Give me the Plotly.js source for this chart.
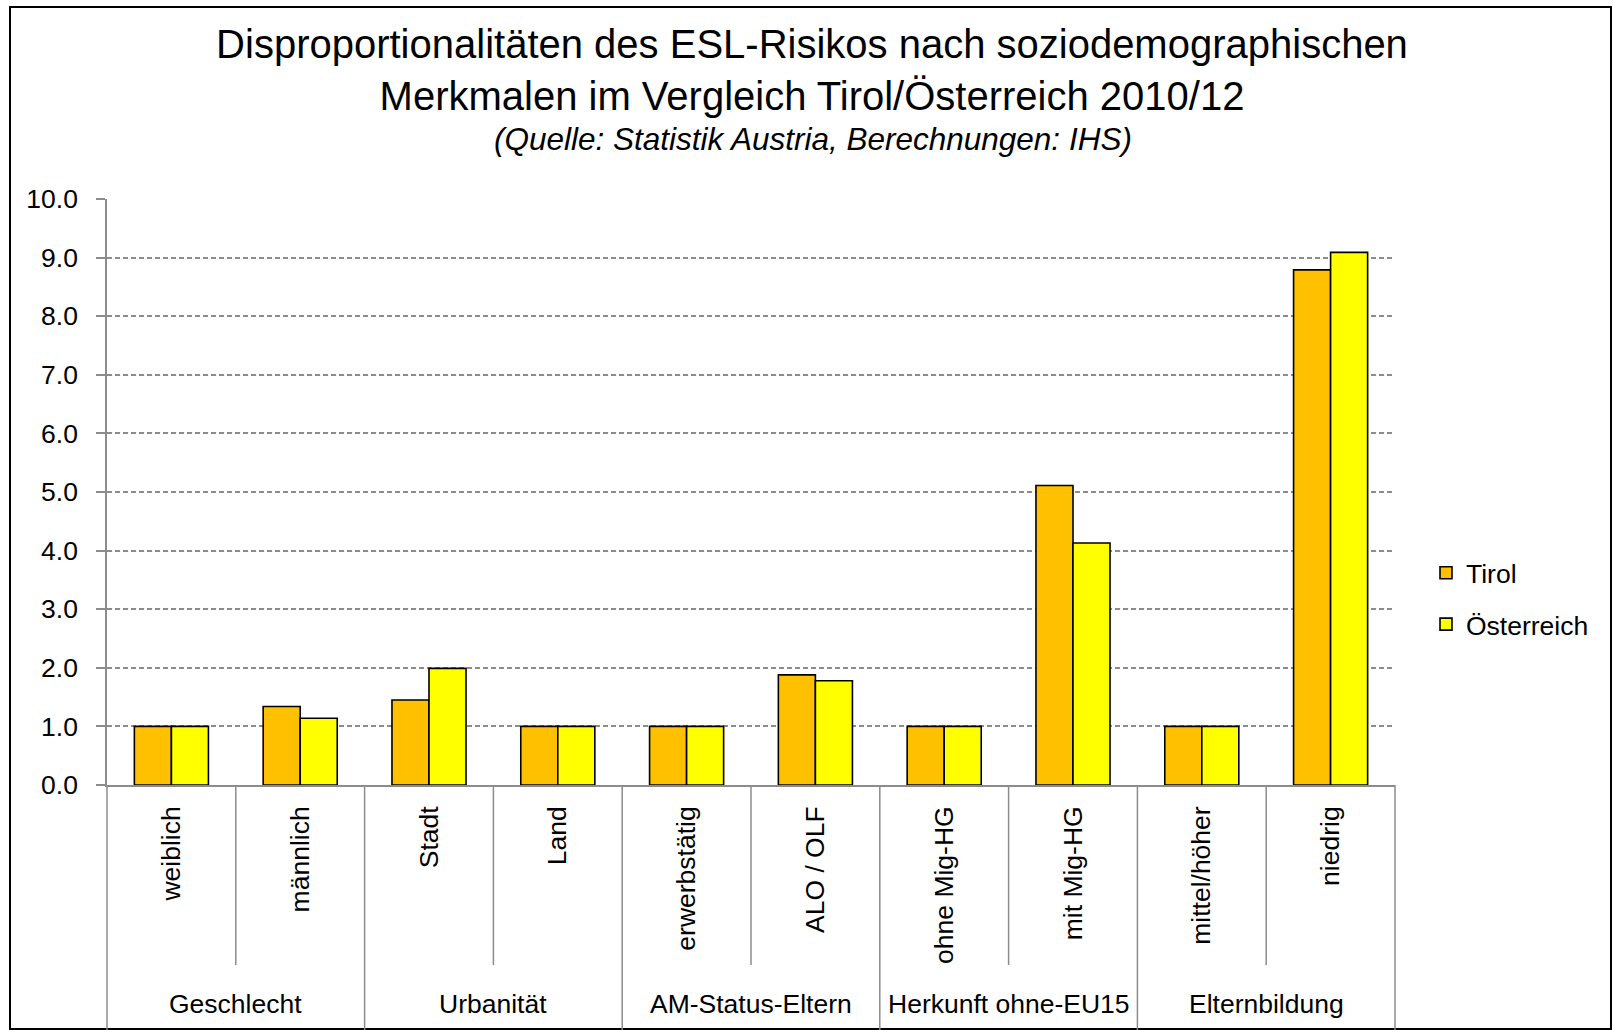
<!DOCTYPE html>
<html>
<head>
<meta charset="utf-8">
<script src="https://cdn.plot.ly/plotly-3.0.1.min.js"></script>
<style>
  html, body { margin: 0; padding: 0; background: #ffffff; }
  #chart { width: 1613px; height: 1030px; }
</style>
</head>
<body>
<div id="chart"></div>
<script>
// Merkmalsausprägungen (innere Achse) und ihre Gruppen (äußere Achse)
const categories = ['weiblich', 'männlich', 'Stadt', 'Land', 'erwerbstätig',
                    'ALO / OLF', 'ohne Mig-HG', 'mit Mig-HG', 'mittel/höher', 'niedrig'];
const groups = ['Geschlecht', 'Urbanität', 'AM-Status-Eltern', 'Herkunft ohne-EU15', 'Elternbildung'];
const groupSizes = [2, 2, 2, 2, 2];

// Disproportionalitäten (Referenzkategorie = 1.0)
const tirol       = [1.00, 1.34, 1.45, 1.00, 1.00, 1.88, 1.00, 5.11, 1.00, 8.79];
const oesterreich = [1.00, 1.14, 1.99, 1.00, 1.00, 1.78, 1.00, 4.13, 1.00, 9.09];

const seriesNames = ['Tirol', 'Österreich'];
const yTickValues = [0, 1, 2, 3, 4, 5, 6, 7, 8, 9, 10];

const titleText = 'Disproportionalitäten des ESL-Risikos nach soziodemographischen<br>Merkmalen im Vergleich Tirol/Österreich 2010/12';
const subtitleText = '(Quelle: Statistik Austria, Berechnungen: IHS)';

// Seitengeometrie in Pixeln
const W = 1613, H = 1030;
const M = { l: 107, r: 218, t: 199, b: 245 };
const plotW = W - M.l - M.r;
const plotH = H - M.t - M.b;
const px2x = px => (px - M.l) / plotW;
const py2y = py => (H - M.b - py) / plotH;

const FONT = '"Liberation Sans", Arial, "DejaVu Sans", sans-serif';
const GREY = '#8c8c8c';
const LABEL_SIZE = 26.5;

const traces = [
  {
    type: 'bar', name: seriesNames[0], x: categories, y: tirol,
    marker: { color: '#FFC000', line: { color: '#000000', width: 1.6 } },
    legendgroup: 'a', hoverinfo: 'x+y+name'
  },
  {
    type: 'bar', name: seriesNames[1], x: categories, y: oesterreich,
    marker: { color: '#FFFF00', line: { color: '#000000', width: 1.6 } },
    legendgroup: 'b', hoverinfo: 'x+y+name'
  }
];

// Trennlinien der Kategorieachse: kurz zwischen Ausprägungen, lang zwischen Gruppen
const shapes = [];
const n = categories.length;
const groupBounds = new Set([0]);
let acc = 0;
groupSizes.forEach(s => { acc += s; groupBounds.add(acc); });
for (let k = 0; k <= n; k++) {
  const xp = k / n;
  const isGroup = groupBounds.has(k);
  shapes.push({
    type: 'line', xref: 'paper', yref: 'paper',
    x0: xp, x1: xp, y0: 0, y1: py2y(isGroup ? 1030 : 965),
    line: { color: GREY, width: 1.5 }
  });
}
// Rahmen um die gesamte Grafik
shapes.push({
  type: 'rect', xref: 'paper', yref: 'paper',
  x0: px2x(10), x1: px2x(1611), y0: py2y(7), y1: py2y(1029),
  line: { color: '#000000', width: 2 }, fillcolor: 'rgba(0,0,0,0)', layer: 'below'
});

// Gruppenbeschriftungen
const annotations = [];
let start = 0;
groups.forEach((g, i) => {
  const mid = (start + groupSizes[i] / 2) / n;
  start += groupSizes[i];
  annotations.push({
    text: g, xref: 'paper', yref: 'paper', x: mid, y: py2y(1004),
    xanchor: 'center', yanchor: 'middle', showarrow: false,
    font: { family: FONT, size: LABEL_SIZE, color: '#000000' }
  });
});
annotations.push({
  text: '<i>' + subtitleText + '</i>', xref: 'paper', yref: 'paper',
  x: px2x(813), y: py2y(139), xanchor: 'center', yanchor: 'middle', showarrow: false,
  font: { family: FONT, size: 31.5, color: '#000000' }
});

const layout = {
  width: W, height: H,
  margin: M,
  paper_bgcolor: '#ffffff', plot_bgcolor: '#ffffff',
  font: { family: FONT, color: '#000000' },
  title: {
    text: titleText,
    xref: 'paper', x: px2x(812), xanchor: 'center',
    yref: 'container', y: 1 - 58 / H, yanchor: 'top',
    font: { family: FONT, size: 40, color: '#000000' }
  },
  barmode: 'group', bargap: 0.425, bargroupgap: 0,
  xaxis: {
    type: 'category', range: [-0.5, n - 0.5],
    showline: true, linecolor: GREY, linewidth: 1.5,
    ticks: '', tickangle: -90, ticklabelstandoff: 9,
    tickfont: { family: FONT, size: LABEL_SIZE, color: '#000000' },
    showgrid: false, zeroline: false, fixedrange: true
  },
  yaxis: {
    range: [0, 10], tickvals: yTickValues, tickformat: '.1f',
    showline: true, linecolor: GREY, linewidth: 1.5,
    ticks: 'outside', ticklen: 9, tickcolor: GREY, tickwidth: 1.5,
    ticklabelstandoff: 13,
    tickfont: { family: FONT, size: LABEL_SIZE, color: '#000000' },
    showgrid: true, gridcolor: GREY, gridwidth: 1.5, griddash: '5px,3px',
    zeroline: false, fixedrange: true
  },
  legend: {
    x: px2x(1426), xanchor: 'left', y: py2y(549), yanchor: 'top',
    traceorder: 'grouped', tracegroupgap: 14,
    font: { family: FONT, size: LABEL_SIZE, color: '#000000' },
    bgcolor: 'rgba(0,0,0,0)'
  },
  shapes: shapes,
  annotations: annotations,
  hovermode: 'closest'
};

Plotly.newPlot('chart', traces, layout, { displayModeBar: false, responsive: false });
</script>
</body>
</html>
